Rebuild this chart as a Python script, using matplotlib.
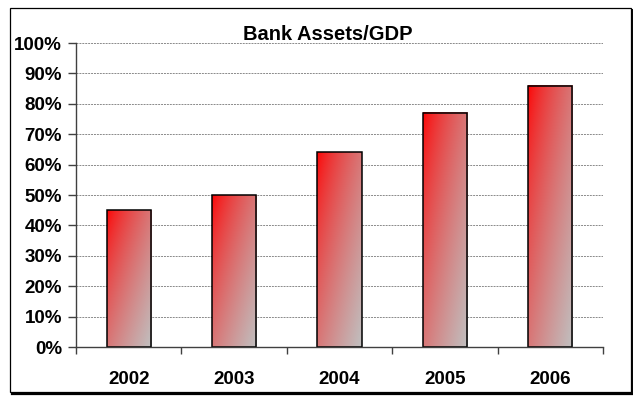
import numpy as np
import matplotlib
matplotlib.use('Agg')
import matplotlib.pyplot as plt
from matplotlib.patches import Rectangle
from matplotlib.lines import Line2D

plt.rcParams['font.family'] = ['Liberation Sans', 'DejaVu Sans']
plt.rcParams['font.weight'] = 'bold'

## data
years = ['2002', '2003', '2004', '2005', '2006']
assets_gdp = [45, 50, 64, 77, 86]
y_ticks = [0, 10, 20, 30, 40, 50, 60, 70, 80, 90, 100]
y_labels = ['%d%%' % v for v in y_ticks]

W, H = 633, 396
fig = plt.figure(figsize=(W/100, H/100), dpi=100)
fig.patch.set_facecolor('white')

## chart border with a little shadow on right/bottom
fig.add_artist(Rectangle((10/W, 1 - 392/H), 621/W, 384/H, transform=fig.transFigure,
                         fill=False, edgecolor='black', linewidth=0.9))
fig.add_artist(Line2D([632/W, 632/W], [1 - 10/H, 1 - 393/H], transform=fig.transFigure,
                      color='black', linewidth=1.4))
fig.add_artist(Line2D([12/W, 632.5/W], [1 - 393.5/H, 1 - 393.5/H], transform=fig.transFigure,
                      color='black', linewidth=1.6))

ax = fig.add_axes([76/W, 1 - 347/H, (603 - 76)/W, (347 - 43)/H])
x = np.arange(len(years))
bars = ax.bar(x, assets_gdp, width=0.42, facecolor='none', edgecolor='black',
              linewidth=1.1, zorder=3)

## diagonal red -> silver gradient inside each bar (red at top-left)
n = 100
u = np.linspace(0, 1, n)
uu, vv = np.meshgrid(u, u)
t = ((uu + vv) / 2.0) ** 0.7
red = np.array([1.0, 0.0, 0.0])
silver = np.array([0.753, 0.753, 0.753])
grad = red[None, None, :] * (1 - t[..., None]) + silver[None, None, :] * t[..., None]
for b in bars:
    x0, y0 = b.get_x(), b.get_y()
    w, h = b.get_width(), b.get_height()
    ax.imshow(grad, extent=[x0, x0 + w, y0, y0 + h], origin='upper',
              aspect='auto', zorder=2, interpolation='bilinear')

ax.set_xlim(-0.5, len(years) - 0.5)
ax.set_ylim(0, 100)
ax.set_yticks(y_ticks)
ax.set_yticklabels(y_labels)
ax.set_xticks(x)
ax.set_xticklabels(years)
ax.set_xticks(np.arange(-0.5, len(years), 1.0), minor=True)
ax.tick_params(axis='x', which='major', length=0, pad=17, labelsize=13.5)
ax.tick_params(axis='x', which='minor', length=5, width=1, direction='out', color='#404040')
ax.tick_params(axis='y', which='major', length=6, width=1, direction='out', pad=4,
               labelsize=13.5, color='#404040')

ax.grid(axis='y', linestyle=(0, (2, 1)), color='#8a8a8a', linewidth=0.7, zorder=1)
ax.set_axisbelow(True)
for s in ['top', 'right']:
    ax.spines[s].set_visible(False)
for s in ['left', 'bottom']:
    ax.spines[s].set_color('#404040')
    ax.spines[s].set_linewidth(1)
    ax.spines[s].set_zorder(4)

fig.text(327.5/W, 1 - 34/H, 'Bank Assets/GDP', ha='center', va='center',
         fontsize=14.5, fontweight='bold')

plt.savefig('out.png', dpi=100, facecolor='white')
